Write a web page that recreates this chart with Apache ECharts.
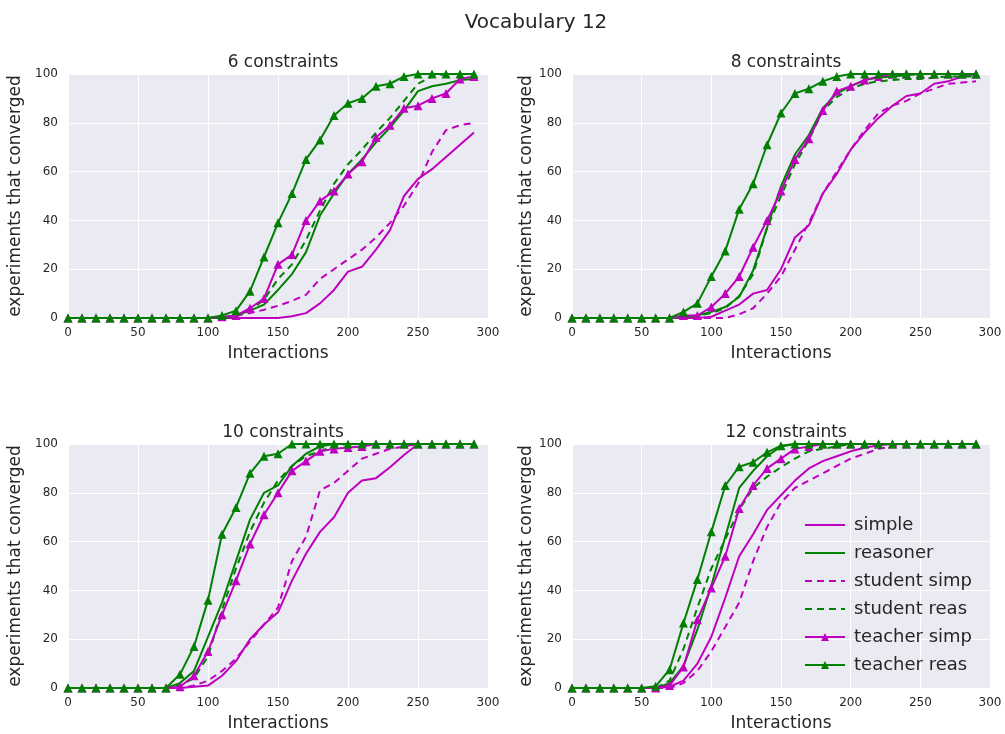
<!DOCTYPE html>
<html><head><meta charset="utf-8">
<script src="https://cdn.jsdelivr.net/npm/echarts@6/dist/echarts.min.js"></script>
<style>html,body{margin:0;padding:0;background:#fff}#c{width:1005px;height:734px}</style>
</head><body><div id="c"></div><script>
// ---- data ----
var interactions = [0,10,20,30,40,50,60,70,80,90,100,110,120,130,140,150,160,170,180,190,200,210,220,230,240,250,260,270,280,290];
var seriesNames = ['simple','reasoner','student simp','student reas','teacher simp','teacher reas'];
var panelTitles = ['6 constraints','8 constraints','10 constraints','12 constraints'];
var xTicks = [0,50,100,150,200,250,300];
var yTicks = [0,20,40,60,80,100];

// 6 constraints
var simple6       = [0,0,0,0,0,0,0,0,0,0,0,0,0,0,0,0,0.7,2,6,11.5,19,21,28,36,50,57,61,66,71,76];
var reasoner6     = [0,0,0,0,0,0,0,0,0,0,0,0,1,3,5.5,11.5,18,27,42,51,59,65,72,78,85,93,95,96,97.5,98];
var studentSimp6  = [0,0,0,0,0,0,0,0,0,0,0,0,1,2,3.4,5,7,9.5,16,20,24,28,33,39,46,55,68,77,79,80];
var studentReas6  = [0,0,0,0,0,0,0,0,0,0,0,0,1,3,7.5,16,22,32,44,55,63,69,76,82,89,96,99,100,100,100];
var teacherSimp6  = [0,0,0,0,0,0,0,0,0,0,0,0.5,1,4,8,22,26,40,48,52,59,64,74,79,86,87,90,92,98,99];
var teacherReas6  = [0,0,0,0,0,0,0,0,0,0,0,1,3,11,25,39,51,65,73,83,88,90,95,96,99,100,100,100,100,100];
// 8 constraints
var simple8       = [0,0,0,0,0,0,0,0,0,0,0.5,3,5.5,10,11.5,20,33,38,51,59,69,76,82,87,91,92,96,97,99,100];
var reasoner8     = [0,0,0,0,0,0,0,0,0.5,1,2.5,4.5,8.6,19.5,37,54,67,75,86,92,95,97.5,98.6,99,99.5,100,100,100,100,100];
var studentSimp8  = [0,0,0,0,0,0,0,0,0,0,0,0,1.5,4,10,17,28,39,51,60,69,77,84,87,89,92,94,96,96.5,97];
var studentReas8  = [0,0,0,0,0,0,0,0,0,1,2,4,9,18,37,50,63,73,85,90.5,94,96,97,97.5,98,98,98.5,99,99,99];
var teacherSimp8  = [0,0,0,0,0,0,0,0,1,1,4.5,10,17,29,40,52,65,73.5,85,93,95,97.5,99,100,100,100,100,100,100,100];
var teacherReas8  = [0,0,0,0,0,0,0,0,2.5,6,17,27.5,44.6,55,71,84,92,94,97,99,100,100,100,100,100,100,100,100,100,100];
// 10 constraints
var simple10      = [0,0,0,0,0,0,0,0,0,0.5,1,5,11,20,26,31,44,55,64,70,80,85,86,90.5,95.5,100,100,100,100,100];
var reasoner10    = [0,0,0,0,0,0,0,0,2,7,21,35,52,69,80,83,91,96,99,100,100,100,100,100,100,100,100,100,100,100];
var studentSimp10 = [0,0,0,0,0,0,0,0,0,1,3,7,12,19,26,33,52,62,81,84,89,94,96,98,99,100,100,100,100,100];
var studentReas10 = [0,0,0,0,0,0,0,0,1,4,13,32,49,64,76,85,91,95,97,99,100,100,100,100,100,100,100,100,100,100];
var teacherSimp10 = [0,0,0,0,0,0,0,0,0.5,5,15,30,44,59,71,80,89,93,97,98,98.6,99,100,100,100,100,100,100,100,100];
var teacherReas10 = [0,0,0,0,0,0,0,0,5.6,17,36,63,74,88,95,96,100,100,100,100,100,100,100,100,100,100,100,100,100,100];
// 12 constraints
var simple12      = [0,0,0,0,0,0,0,0.5,3,10,21,37,54,63,73,79,85,90,93,95,97,98.5,99.5,100,100,100,100,100,100,100];
var reasoner12    = [0,0,0,0,0,0,0,2,9,24,42,62,82,89,95,99,100,100,100,100,100,100,100,100,100,100,100,100,100,100];
var studentSimp12 = [0,0,0,0,0,0,0,0,2,7,15,25,35,52,66,76,82,85,88,91,94,96,98,99,100,100,100,100,100,100];
var studentReas12 = [0,0,0,0,0,0,0,3,16,33,49,61,73,82,86.6,90.5,94,97,98,99,100,100,100,100,100,100,100,100,100,100];
var teacherSimp12 = [0,0,0,0,0,0,0,1,8.6,28,41,54,73.6,83,90,94,98,99,100,100,100,100,100,100,100,100,100,100,100,100];
var teacherReas12 = [0,0,0,0,0,0,0.7,7.5,26.6,44.5,64,83,90.7,92.5,96.6,99.3,100,100,100,100,100,100,100,100,100,100,100,100,100,100];

var panelData = [
  [simple6, reasoner6, studentSimp6, studentReas6, teacherSimp6, teacherReas6],
  [simple8, reasoner8, studentSimp8, studentReas8, teacherSimp8, teacherReas8],
  [simple10, reasoner10, studentSimp10, studentReas10, teacherSimp10, teacherReas10],
  [simple12, reasoner12, studentSimp12, studentReas12, teacherSimp12, teacherReas12]
];

// ---- styles ----
var FONT = 'DejaVu Sans';
var TXT = '#262626';
var MAG = '#BF00BF', GRN = '#008000';
var styles = [
  {color: MAG, dash: 'solid', sym: 'none'},
  {color: GRN, dash: 'solid', sym: 'none'},
  {color: MAG, dash: [7,5], sym: 'none'},
  {color: GRN, dash: [7,5], sym: 'none'},
  {color: MAG, dash: 'solid', sym: 'triangle'},
  {color: GRN, dash: 'solid', sym: 'triangle'}
];
var grids = [
  {left: 68, top: 74, width: 420, height: 244},
  {left: 572, top: 74, width: 418, height: 244},
  {left: 68, top: 444, width: 420, height: 244},
  {left: 572, top: 444, width: 418, height: 244}
];
var titlePos = [[278, 49], [781, 49], [278, 419], [781, 419]];
var yNameGap = [44, 37, 44, 37];

var option = {
  animation: false,
  backgroundColor: '#ffffff',
  title: [{text: 'Vocabulary 12', left: 531, top: 8, textAlign: 'center',
           textStyle: {fontSize: 20, fontWeight: 'normal', color: TXT, fontFamily: FONT}}],
  grid: [], xAxis: [], yAxis: [], series: [],
  legend: {
    orient: 'vertical', left: 799, top: 510,
    itemWidth: 40, itemHeight: 10, itemGap: 8,
    data: seriesNames.map(function (n, i) {
      return styles[i].sym === 'none'
        ? {name: n, itemStyle: {opacity: 0, color: 'rgba(0,0,0,0)', borderWidth: 0}}
        : {name: n};
    }),
    textStyle: {fontSize: 18, color: TXT, fontFamily: FONT, lineHeight: 20, padding: [0, 0, 0, 4]}
  }
};

grids.forEach(function (g, p) {
  option.grid.push({left: g.left, top: g.top, width: g.width, height: g.height,
    show: true, backgroundColor: '#EAEAF2', borderWidth: 0, containLabel: false});
  option.title.push({text: panelTitles[p], left: titlePos[p][0], top: titlePos[p][1], textAlign: 'center',
    textStyle: {fontSize: 17, fontWeight: 'normal', color: TXT, fontFamily: FONT}});
  option.xAxis.push({
    gridIndex: p, type: 'value', min: xTicks[0], max: xTicks[xTicks.length - 1], interval: xTicks[1] - xTicks[0],
    name: 'Interactions', nameLocation: 'middle', nameGap: 27,
    nameTextStyle: {fontSize: 17, color: TXT, fontFamily: FONT},
    axisLine: {show: false}, axisTick: {show: false},
    axisLabel: {fontSize: 12, color: TXT, fontFamily: FONT, margin: 9},
    splitLine: {show: true, lineStyle: {color: '#ffffff', width: 1}}
  });
  option.yAxis.push({
    gridIndex: p, type: 'value', min: yTicks[0], max: yTicks[yTicks.length - 1], interval: yTicks[1] - yTicks[0],
    name: 'experiments that converged', nameLocation: 'middle', nameGap: yNameGap[p],
    nameTextStyle: {fontSize: 17, color: TXT, fontFamily: FONT},
    axisLine: {show: false}, axisTick: {show: false},
    axisLabel: {fontSize: 12, color: TXT, fontFamily: FONT, margin: 10},
    splitLine: {show: true, lineStyle: {color: '#ffffff', width: 1}}
  });
  panelData[p].forEach(function (vals, s) {
    var st = styles[s];
    option.series.push({
      type: 'line', name: seriesNames[s], xAxisIndex: p, yAxisIndex: p,
      data: interactions.map(function (x, i) { return [x, vals[i]]; }),
      symbol: st.sym, symbolSize: 9, showSymbol: st.sym !== 'none', showAllSymbol: true,
      lineStyle: {color: st.color, width: 2, type: st.dash},
      itemStyle: {color: st.color, borderWidth: 0},
      clip: true, silent: true
    });
  });
});

var chart = echarts.init(document.getElementById('c'), null, {renderer: 'canvas'});
chart.setOption(option);
</script></body></html>
